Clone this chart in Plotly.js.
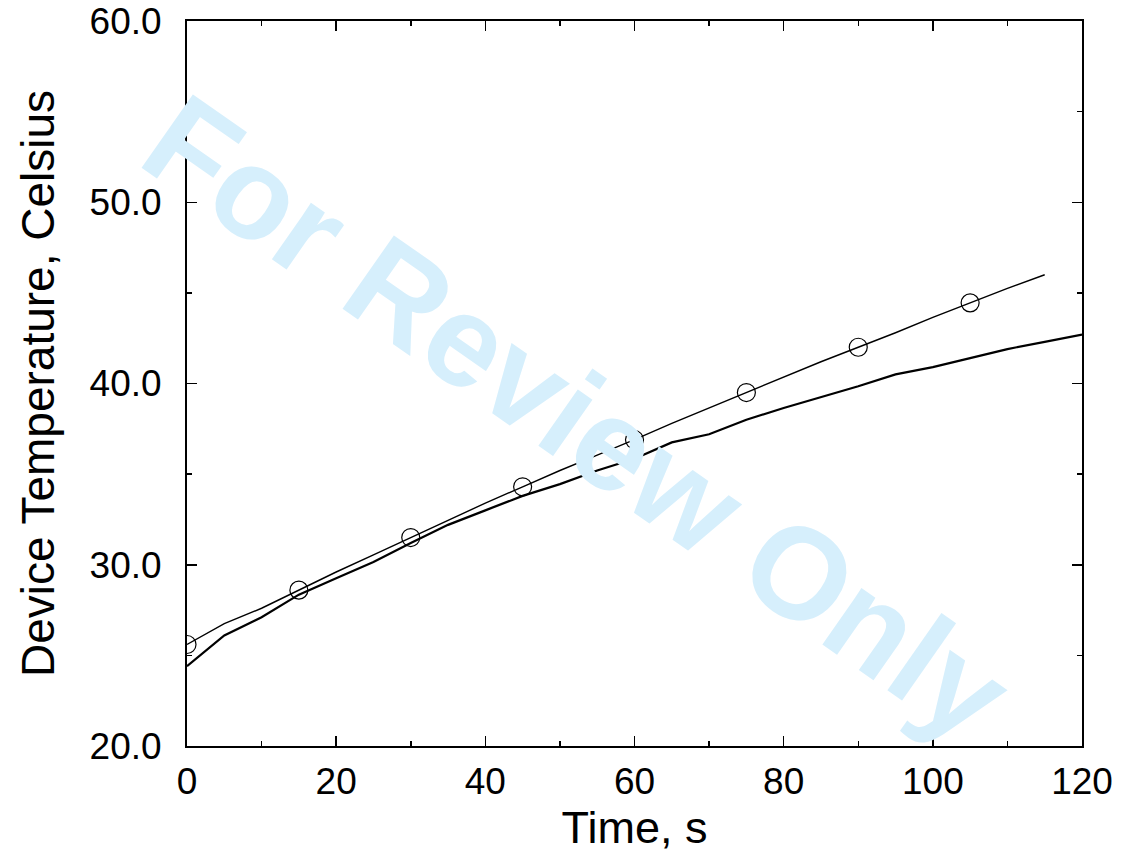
<!DOCTYPE html>
<html>
<head>
<meta charset="utf-8">
<script src="https://cdn.plot.ly/plotly-3.0.1.min.js"></script>
<style>html,body{margin:0;padding:0;background:#fff;}#chart{width:1124px;height:857px;}</style>
</head>
<body>
<div id="chart"></div>
<script>
// Time (s) and device temperature (Celsius)
const timeA = [0,5,10,15,20,25,30,35,40,45,50,55,60,65,70,75,80,85,90,95,100,105,110,115];
const tempA = [25.6,26.75,27.6,28.6,29.6,30.55,31.5,32.45,33.4,34.3,35.2,36.05,36.9,37.8,38.65,39.5,40.35,41.2,42.0,42.8,43.65,44.45,45.25,46.0];
const timeB = [0,5,10,15,20,25,30,35,40,45,50,55,60,65,70,75,80,85,90,95,100,105,110,115,120];
const tempB = [24.4,26.1,27.1,28.35,29.25,30.15,31.2,32.2,33.0,33.8,34.45,35.2,35.85,36.75,37.2,38.0,38.65,39.25,39.85,40.5,40.9,41.4,41.9,42.3,42.7];
const markerEvery = 3;
const xTicks = [0,20,40,60,80,100,120];
const yTicks = [20,30,40,50,60];
const watermark = "For Review Only";

const mTime = timeA.filter((_, i) => i % markerEvery === 0);
const mTemp = tempA.filter((_, i) => i % markerEvery === 0);

const font = "'Liberation Sans', Arial, Helvetica, sans-serif";

const traces = [
  {x: timeB, y: tempB, mode: 'lines', line: {color: '#000', width: 2.2}, hoverinfo: 'skip'},
  {x: timeA, y: tempA, mode: 'lines', line: {color: '#000', width: 1.4}, hoverinfo: 'skip'},
  {x: mTime, y: mTemp, mode: 'markers', marker: {symbol: 'circle-open', size: 18, color: '#000', line: {width: 1.2, color: '#000'}}, hoverinfo: 'skip'}
];

const axisCommon = {
  showline: true, linecolor: '#000', linewidth: 2, mirror: 'allticks',
  ticks: 'inside', ticklen: 10, tickwidth: 1.5, tickcolor: '#000',
  showgrid: false, zeroline: false,
  tickfont: {family: font, size: 37, color: '#000'}
};

const layout = {
  width: 1124, height: 857,
  margin: {l: 187, r: 42, t: 21, b: 111},
  paper_bgcolor: '#fff', plot_bgcolor: 'rgba(0,0,0,0)',
  showlegend: false,
  xaxis: Object.assign({}, axisCommon, {
    range: [0, 120], tickvals: xTicks, ticktext: xTicks.map(String),
    ticklabelstandoff: 2,
    minor: {dtick: 10, ticks: 'inside', ticklen: 5, tickwidth: 1.5, tickcolor: '#000'},
    title: {text: 'Time, s', font: {family: font, size: 45, color: '#000'}, standoff: 4}
  }),
  yaxis: Object.assign({}, axisCommon, {
    range: [20, 60], tickvals: yTicks, ticktext: yTicks.map(v => v.toFixed(1)),
    ticklabelstandoff: 16,
    minor: {dtick: 5, ticks: 'inside', ticklen: 5, tickwidth: 1.5, tickcolor: '#000'},
    title: {text: 'Device Temperature, Celsius', font: {family: font, size: 46, color: '#000'}, standoff: 20}
  }),
  annotations: [{
    text: '<b>' + watermark + '</b>', xref: 'paper', yref: 'paper', x: 0.436, y: 0.452,
    xanchor: 'center', yanchor: 'middle', showarrow: false, textangle: 35,
    font: {family: font, size: 130, color: '#d6effc'}
  }]
};

Plotly.newPlot('chart', traces, layout, {displayModeBar: false, staticPlot: true});
</script>
</body>
</html>
